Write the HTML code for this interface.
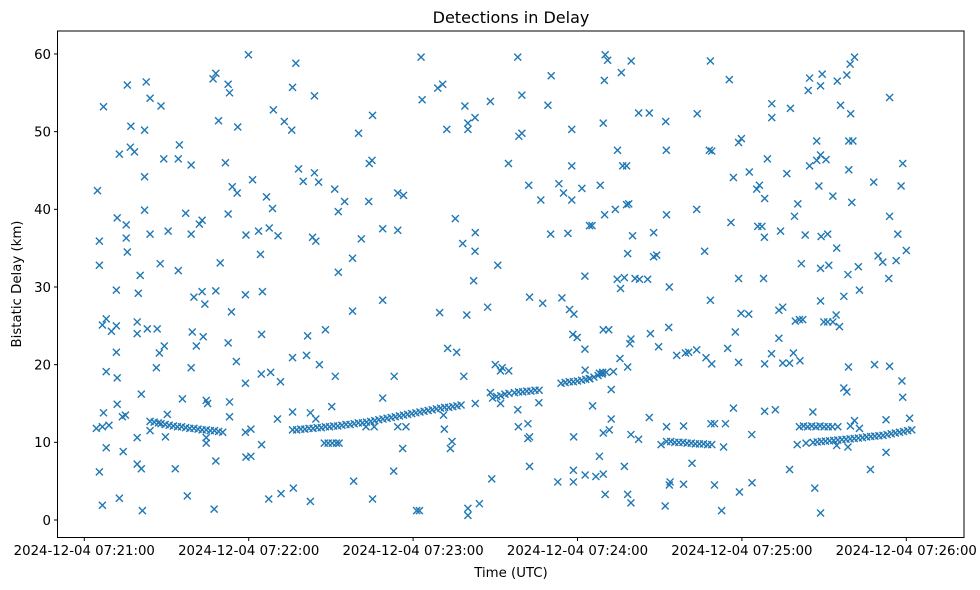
<!DOCTYPE html>
<html><head><meta charset="utf-8"><title>Detections in Delay</title>
<style>
html,body{margin:0;padding:0;background:#fff;}
svg{display:block;font-family:"DejaVu Sans","Liberation Sans",sans-serif;}
</style></head>
<body>
<svg id="chart" width="980" height="590" viewBox="0 0 980 590" xmlns="http://www.w3.org/2000/svg">
<rect x="0" y="0" width="980" height="590" fill="#fff"/>
<text x="511" y="23" font-size="16" text-anchor="middle" fill="#000">Detections in Delay</text>
<text x="511" y="577" font-size="13.3" text-anchor="middle" fill="#000">Time (UTC)</text>
<text transform="translate(21,284) rotate(-90)" font-size="13.3" text-anchor="middle" fill="#000">Bistatic Delay (km)</text>
<g id="marks"></g>
<g id="axes"></g>
<rect x="57.5" y="31" width="906.5" height="506.5" fill="none" stroke="#000" stroke-width="1"/>
</svg>
<script>
// x: seconds after 2024-12-04 07:21:00, y: bistatic delay km
const xTickLabels = ["2024-12-04 07:21:00","2024-12-04 07:22:00","2024-12-04 07:23:00","2024-12-04 07:24:00","2024-12-04 07:25:00","2024-12-04 07:26:00"];
const xTickSeconds = [0,60,120,180,240,300];
const yTicks = [0,10,20,30,40,50,60];
const scatterT = [59.9,15.7,22.6,48,47,52.5,53,7,24,28,17,22,49,56,12.8,16.8,18.3,34.7,29,34.3,39,51.5,22,4.8,54,55.8,22,37,52.5,12,15.3,43,42,5.5,15.3,24,30.6,39,59,15.7,5.5,27.7,34.3,49.6,20.4,11.7,19.7,40,43,44,48,58.8,53.7,8,6.6,9.9,11.7,19.3,19.3,23,26.6,39.4,43.4,40.9,29.2,27.4,52.5,11.7,55.5,8,12,26.3,39,58.8,20.8,12,35.8,44.5,45,53,7,4.4,6.6,9,13.9,15,53,30.3,24,29.6,19.3,44.5,44.5,58.8,8,14.2,59,48,19.3,20.8,33.2,5.5,37.6,12.8,6.6,21.2,47.4,
77.2,76,84,69,73,75.7,105.2,100.1,104,105,61.4,78.2,79.9,84,85.5,91.4,66.5,68.7,95,92.7,103.8,114.4,116.5,63.6,67.5,70.7,83.3,84.5,101.1,108.9,114.4,64.3,97.9,92.7,65,108.9,97.9,64.7,81.5,88,76,81.1,85.8,64.6,68,71.6,91.6,113.1,108.9,70.5,76,82.5,84.5,90.3,60.8,64.7,60.8,102.8,105.8,114.4,117.4,116.2,112.9,98.3,67.3,71.8,76.3,82.5,105.2,121.3,
122.9,158.2,170.4,129,130.8,123.3,138.9,148.2,159.7,169.2,132.3,140,140,142.6,158.6,159.7,177.9,154.8,177.9,162.2,166.6,173.2,174.9,177.9,181.6,135.4,142.7,138.1,142.6,170.2,176.5,184.4,150.9,182.7,142.1,129.7,139.6,147.2,162.5,167.3,174.3,177.1,178.7,132.6,135.9,178.3,179.9,182.7,150,152.5,151.9,154.9,138.5,182.8,148.2,142.7,151.9,165.9,158.2,131.1,131.4,158.4,161.9,162.5,161.9,178.6,134.2,133.6,162.5,148.7,172.8,178.5,178.5,182.8,122.3,140,140,144.2,
190.1,191,199.6,196,189.8,228.5,235.4,202.3,206.2,212.2,223.7,189.4,194.6,212.4,228.1,229,238.8,239.8,196.5,197.9,236.9,242.7,245.4,188.3,197.9,198.7,189.9,193.8,212.5,223.5,185.3,236,245.8,200.1,207.8,198.3,207.8,208.9,226.4,194.5,197.1,195.7,201,202.6,205.6,213.5,238.8,228.5,239.7,242.5,189.4,191.4,199.5,199.1,206.6,213.3,209.6,216.2,219.4,220.6,223.5,226.9,229,234.8,237.6,238.8,195.5,198.3,188,189.2,193.1,184.3,192.3,185.5,236.9,192.3,191.6,189.4,206.2,212.5,218.7,228.7,230,234,243.6,199.5,202.3,210.5,233.3,188,197.1,221.8,186.7,189.4,213.8,213.5,218.7,230,243.7,190.1,198.3,199.5,212,232.6,239.1,
281.1,279.5,278.3,274.8,264.7,269.3,264.2,268.7,250.9,250.9,257.7,276,279.7,293.9,267.3,279,280.5,249.3,256.4,264.7,267.3,268.7,270.7,279,298.7,288.1,298.1,246.4,248.3,268.1,273.2,280.1,260.4,259.2,293.9,247.3,248.2,254.1,263.1,268.9,271.3,274.6,296.9,300,289.7,291.4,296.3,261.7,268.7,271.7,278.7,282.5,293.6,247.9,282.9,277.2,268.7,253.5,254.9,259.5,261,262.2,269.9,271.3,273.2,274.4,275.6,253.5,250.8,248.3,254.9,257.4,258.8,261.2,278.9,288.4,293.9,298.4,298.7,277.2,278.3,248.3,252.2,265.9,301.2,292.6,281.1,279.6,282.9,275,260.2,263.4,274.6,278.7,292.6,257.4,286.9,266.6,268.7];
const scatterD = [59.9,56,56.4,57.5,56.8,56.1,55,53.2,54.3,53.3,50.7,50.2,51.4,50.6,47.1,48,47.4,48.3,46.5,46.5,45.7,46,44.2,42.4,42.9,42.1,39.9,39.5,39.4,38.9,38,38.6,38.1,35.9,36.3,36.8,37.2,36.8,36.7,34.5,32.8,33,32.1,33.1,31.5,29.6,29.2,28.7,29.4,27.8,29.5,29,26.8,25.9,25.1,24.3,25,25.5,24,24.6,24.6,24.2,23.6,22.4,22.4,21.5,22.8,21.6,20.4,19.1,18.3,19.6,19.6,17.6,16.2,14.9,15.6,15.4,15,15.2,13.8,11.8,12,12.2,13.3,13.5,13.3,13.6,11.5,10.7,10.6,10.6,9.9,11.3,9.3,8.8,8.1,7.6,7.2,6.6,6.6,6.2,3.1,2.8,1.9,1.2,1.4,
58.8,55.7,54.6,52.8,51.3,50.2,52.1,49.8,45.9,46.3,43.8,45.2,43.6,44.7,43.5,42.6,41.6,40.1,41,39.7,41,42.1,41.8,37.2,37.6,36.6,36.4,35.9,36.2,37.5,37.3,34.2,33.7,31.9,29.4,28.3,26.9,23.9,23.7,24.5,20.9,21.2,20,18.8,19,17.8,18.5,18.5,15.7,13,13.9,13.8,13,14.6,11.7,9.7,8.2,12,12,12,12,9.2,6.3,5,2.7,3.4,4.1,2.4,2.7,1.2,
59.6,59.6,57.2,55.6,56.1,54.1,53.3,53.9,54.7,53.4,50.3,50.3,51.1,51.8,49.4,49.8,50.3,45.9,45.6,43.1,41.2,43.3,42.1,41.2,42.7,38.8,37,35.6,34.6,36.8,36.9,37.9,32.8,31.4,30.8,26.7,26.4,27.4,28.7,27.9,28.6,27.1,26.5,22.1,21.6,23.9,23.5,22,20,19.6,19.2,19.2,18.5,19.3,16.4,15,15,15.1,14.2,13.5,11.7,12,12.4,10.7,10.5,10.7,10.1,9.2,6.9,5.3,4.9,4.9,6.4,5.8,1.2,1.5,0.6,2.1,
59.9,59.2,59.1,57.6,56.6,59.1,56.7,52.4,52.4,51.3,52.3,51.1,47.6,47.6,47.6,47.5,48.6,49.1,45.6,45.6,44.1,44.8,42.6,43.1,40.6,40.7,39.3,40,39.3,40,37.9,38.3,37.8,36.6,37,34.3,33.9,34.1,34.6,31,31.2,29.8,31.1,31,31,30,31.1,28.3,26.6,26.5,24.5,24.5,23.3,22.7,24,24.8,22.3,21.2,21.5,21.6,21.9,20.9,20.1,22.1,24.2,20.3,20.8,19.7,18.9,19,19.1,18.2,16.8,14.7,14.4,13,11.6,11.2,13.2,12,12.1,12.4,12.4,12.4,11,11,10.4,9.7,9.4,8.2,6.9,7.3,5.6,5.9,4.9,4.5,4.6,4.5,4.8,3.3,3.3,2.2,1.8,1.2,3.6,
59.6,58.7,57.3,56.5,56.9,57.4,55.3,55.9,53.6,51.8,53,53.4,52.3,54.4,48.8,48.8,48.8,46.5,44.6,45.6,46.3,47,46.4,45.1,45.9,43.5,43,43.1,41.4,43,41.7,40.9,40.7,39.1,39.1,37.8,36.4,37.2,36.7,36.5,36.8,35,36.8,34.7,34,33.2,33.4,33,32.4,32.8,31.6,32.6,31.1,31.1,29.6,28.8,28.2,27,27.4,25.6,25.8,25.8,25.5,25.5,25.5,26.4,24.9,23.4,21.4,20.1,20.2,20.2,21.5,20.5,19.7,20,19.8,17.9,15.8,17,16.5,14,14.2,13.9,13.1,12.9,12.8,12.1,11.8,12,9.7,9.9,9.6,9.4,8.7,6.5,6.5,4.1,0.9];
// dense tracks
const trackT = [24,25.5,27,28,29.5,31,32.5,34,35.5,37,38.5,40,41.5,43,44.5,46,47.5,49,50.5,
76,77.5,79,80.5,82,83.5,85,86.5,88,89.5,91,92.5,94,95.5,97,98.5,100,101.5,103,104.5,106,107.5,109,110.5,112,113.5,115,116.5,118,119.5,121,122.5,124,125.5,127,128.5,130,131.5,133,134.5,136,137.5,
87.6,89,90.5,92,93,
149,150.5,152,153.5,155,157,158.5,160,161.5,163,164.5,166,
174,175.5,177,178.5,180,181.5,183,184.5,186,187.5,189,190.5,
212.5,214,215.5,217,218.5,220,221.5,223,224.5,226,227.5,229,
261,262.5,264,265.5,267,268.5,270,271.5,273,
266,267.5,269,270.5,272,273.5,275,276.5,278,279.5,281,282.5,284,285.5,287,288.5,290,291.5,293,294.5,296,297.5,299,300.5,302];
const trackD = [12.7,12.6,12.5,12.4,12.3,12.2,12.1,12.0,12.0,11.9,11.8,11.8,11.7,11.6,11.6,11.5,11.5,11.4,11.3,
11.6,11.6,11.7,11.7,11.8,11.8,11.9,11.9,12.0,12.0,12.1,12.1,12.2,12.3,12.3,12.4,12.5,12.5,12.6,12.7,12.8,12.9,13.0,13.1,13.2,13.3,13.4,13.5,13.6,13.7,13.8,13.9,14.0,14.1,14.2,14.3,14.4,14.5,14.5,14.6,14.7,14.8,
9.9,9.9,9.9,9.9,9.9,
15.7,15.9,16.0,16.2,16.3,16.4,16.5,16.5,16.6,16.6,16.7,16.7,
17.6,17.7,17.8,17.8,17.9,18.0,18.1,18.2,18.4,18.6,18.8,19.0,
10.1,10.1,10.0,10.0,10.0,9.9,9.9,9.8,9.8,9.8,9.7,9.7,
12.0,12.1,12.0,12.1,12.0,12.1,12.0,12.0,12.0,
10.0,10.05,10.1,10.15,10.2,10.25,10.3,10.35,10.4,10.45,10.5,10.55,10.6,10.7,10.75,10.8,10.85,10.9,11.0,11.1,11.2,11.3,11.4,11.5,11.6];

const NS = "http://www.w3.org/2000/svg";
function xScale(t){ return 84.3 + t * 164.4 / 60; }
function yScale(d){ return 520 - d * 7.767; }
const marks = document.getElementById('marks');
const axes = document.getElementById('axes');
function drawX(t, d){
  const cx = xScale(t), cy = yScale(d), r = 3.5;
  const p = document.createElementNS(NS, 'path');
  p.setAttribute('d', `M${cx-r},${cy-r}L${cx+r},${cy+r}M${cx-r},${cy+r}L${cx+r},${cy-r}`);
  p.setAttribute('stroke', '#1f77b4');
  p.setAttribute('stroke-width', '1.4');
  p.setAttribute('fill', 'none');
  
  
  marks.appendChild(p);
}
for (let i = 0; i < scatterT.length; i++) drawX(scatterT[i], scatterD[i]);
for (let i = 0; i < trackT.length; i++) drawX(trackT[i], trackD[i]);

xTickSeconds.forEach((s, i) => {
  const x = xScale(s);
  const l = document.createElementNS(NS, 'line');
  l.setAttribute('x1', x); l.setAttribute('x2', x);
  l.setAttribute('y1', 537.5); l.setAttribute('y2', 541);
  l.setAttribute('stroke', '#000');
  
  
  axes.appendChild(l);
  const tx = document.createElementNS(NS, 'text');
  tx.setAttribute('x', x); tx.setAttribute('y', 555);
  tx.setAttribute('font-size', '13.3');
  tx.setAttribute('text-anchor', 'middle');
  tx.textContent = xTickLabels[i];
  
  
  axes.appendChild(tx);
});
yTicks.forEach(v => {
  const y = yScale(v);
  const l = document.createElementNS(NS, 'line');
  l.setAttribute('x1', 54); l.setAttribute('x2', 57.5);
  l.setAttribute('y1', y); l.setAttribute('y2', y);
  l.setAttribute('stroke', '#000');
  
  
  axes.appendChild(l);
  const tx = document.createElementNS(NS, 'text');
  tx.setAttribute('x', 51); tx.setAttribute('y', y + 4.8);
  tx.setAttribute('font-size', '13.3');
  tx.setAttribute('text-anchor', 'end');
  tx.textContent = String(v);
  
  
  axes.appendChild(tx);
});
</script>
</body></html>
